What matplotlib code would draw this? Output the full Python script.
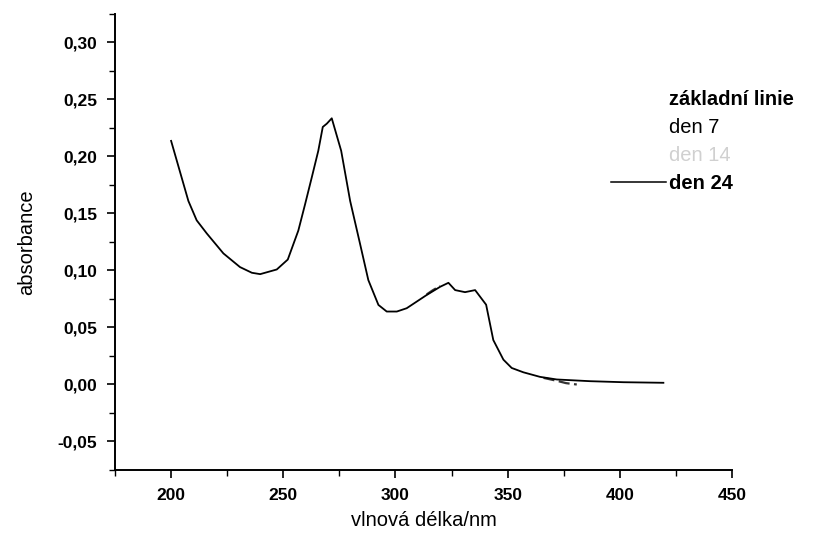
import matplotlib.pyplot as plt
from matplotlib.ticker import MultipleLocator, FuncFormatter
from matplotlib.lines import Line2D

plt.rcParams['font.family'] = ['Liberation Sans', 'DejaVu Sans']

# wavelength (nm) and absorbance
wavelength = [200, 207.7, 211.4, 215.9, 223.3, 230.7, 236, 239.7, 247.1, 252,
              256.7, 259.7, 262.7, 265.6, 267.6, 269.4, 271.6, 275.8, 279.8,
              284.2, 287.9, 292.4, 296.1, 300.6, 305, 313.9, 319.9, 323.6,
              326.6, 331, 335.5, 340.4, 343.6, 348.1, 351.8, 357, 364.4,
              371.9, 386.7, 401.6, 419.4]
den_24 = [0.2137, 0.161, 0.144, 0.1325, 0.115, 0.103, 0.098, 0.0968, 0.1009,
          0.1096, 0.135, 0.158, 0.1817, 0.205, 0.2259, 0.2288, 0.2335, 0.205,
          0.161, 0.1235, 0.0916, 0.0698, 0.064, 0.064, 0.0669, 0.0785, 0.0857,
          0.0892, 0.0828, 0.081, 0.0828, 0.070, 0.039, 0.0218, 0.0145, 0.0107,
          0.0067, 0.0044, 0.0029, 0.002, 0.0015]

# den 14 only shows where it leaves the den 24 curve (gap = None)
wl_14 = [313.9, 316.5, 319.9, None, 366, 372, 376, 380.8]
den_14 = [0.0790, 0.0825, 0.0865, None, 0.0058, 0.0032, 0.0012, 0.0]

labels = ['základní linie', 'den 7', 'den 14', 'den 24']

fig = plt.figure(figsize=(8.18, 5.38), dpi=100)
ax = fig.add_axes([0.1406, 0.1264, 0.7543, 0.8476])

wl_14 = [float('nan') if v is None else v for v in wl_14]
den_14 = [float('nan') if v is None else v for v in den_14]
ax.plot(wl_14, den_14, color='#333333', lw=1.6, ls=(0, (5, 2)))
ax.plot(wavelength, den_24, color='black', lw=1.3)

ax.set_xlim(175, 450)
ax.set_ylim(-0.075, 0.325)

ax.spines['top'].set_visible(False)
ax.spines['right'].set_visible(False)
ax.spines['left'].set_linewidth(1.4)
ax.spines['bottom'].set_linewidth(1.4)

ax.xaxis.set_major_locator(MultipleLocator(50))
ax.xaxis.set_minor_locator(MultipleLocator(25))
ax.yaxis.set_major_locator(MultipleLocator(0.05))
ax.yaxis.set_minor_locator(MultipleLocator(0.025))
ax.yaxis.set_major_formatter(FuncFormatter(lambda v, p: ('%.2f' % v).replace('.', ',')))
ax.tick_params(which='major', direction='out', length=6, width=1.2,
               labelsize=12.5, pad=7)
ax.tick_params(which='minor', direction='out', length=4, width=1.0)
for lab in ax.get_xticklabels() + ax.get_yticklabels():
    lab.set_fontweight('bold')

ax.set_xlabel('vlnová délka/nm', fontsize=14.5, labelpad=6)
ax.set_ylabel('absorbance', fontsize=14.5, labelpad=15)

handles = [Line2D([], [], color='white', lw=1),
           Line2D([], [], color='white', lw=1),
           Line2D([], [], color='white', lw=1),
           Line2D([], [], color='black', lw=1.1)]
leg = ax.legend(handles, labels, loc='upper left',
                bbox_to_anchor=(0.735, 0.852), bbox_transform=fig.transFigure,
                frameon=False, fontsize=14.5, handlelength=2.7,
                handletextpad=0.15, labelspacing=0.45, borderpad=0)
texts = leg.get_texts()
texts[0].set_fontweight('bold')
texts[2].set_color('#d0d0d0')
texts[3].set_fontweight('bold')

fig.savefig('out.png', dpi=100)
